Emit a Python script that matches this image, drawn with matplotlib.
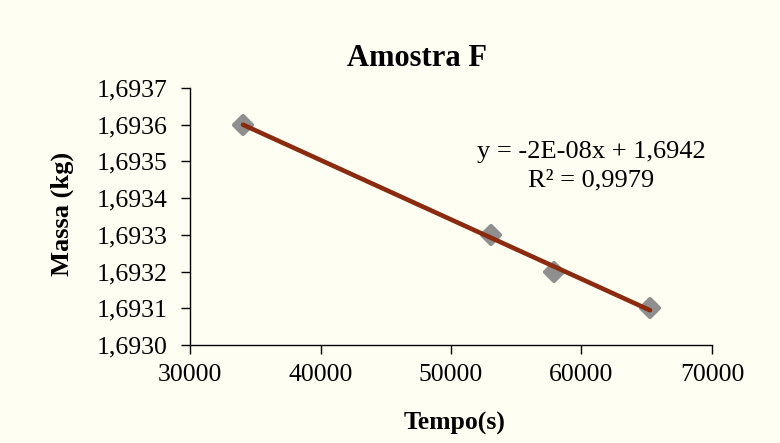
import numpy as np
import matplotlib
matplotlib.use("Agg")
import matplotlib.pyplot as plt
from matplotlib.ticker import FuncFormatter
from matplotlib.markers import MarkerStyle

# Mass loss measurements for sample F
tempo_s = [34060, 53100, 57900, 65250]
massa_kg = [1.6936, 1.6933, 1.6932, 1.6931]

titulo = "Amostra F"
rotulo_x = "Tempo(s)"
rotulo_y = "Massa (kg)"
equacao = "y = -2E-08x + 1,6942"
r2_texto = "R² = 0,9979"

x_ticks = [30000, 40000, 50000, 60000, 70000]
y_ticks = [1.6930, 1.6931, 1.6932, 1.6933, 1.6934, 1.6935, 1.6936, 1.6937]

plt.rcParams["font.family"] = ["Liberation Serif", "DejaVu Serif"]

bg = "#FFFEF2"
fig = plt.figure(figsize=(7.8, 4.43), dpi=100, facecolor=bg)
ax = fig.add_axes([0.2436, 0.2212, 0.6692, 0.5801], facecolor=bg)

# linear trend line over the measured range
coef = np.polyfit(tempo_s, massa_kg, 1)
xs = np.array([min(tempo_s), max(tempo_s)])
diamante = MarkerStyle("D", joinstyle="round")
ax.plot(tempo_s, massa_kg, linestyle="none", marker=diamante, markersize=9.0,
        color="#8F8F8F", markeredgecolor="#8F8F8F", markeredgewidth=3.0,
        zorder=2)
ax.plot(xs, np.polyval(coef, xs), color="#8A2B0F", linewidth=3.3,
        solid_capstyle="round", zorder=3)

ax.set_xlim(x_ticks[0], x_ticks[-1])
ax.set_ylim(y_ticks[0], y_ticks[-1])
ax.set_xticks(x_ticks)
ax.set_yticks(y_ticks)
ax.xaxis.set_major_formatter(FuncFormatter(lambda v, p: f"{v:.0f}"))
ax.yaxis.set_major_formatter(FuncFormatter(lambda v, p: f"{v:.4f}".replace(".", ",")))

for s in ("top", "right"):
    ax.spines[s].set_visible(False)
for s in ("left", "bottom"):
    ax.spines[s].set_linewidth(1.0)
    ax.spines[s].set_color("black")
ax.tick_params(axis="both", direction="out", length=6.5, width=1.0,
               labelsize=18.5, colors="black")
ax.tick_params(axis="y", pad=10)
ax.tick_params(axis="x", pad=7)

ax.text(0.768, 0.752, equacao, transform=ax.transAxes, ha="center",
        va="center", fontsize=19)
ax.text(0.768, 0.642, r2_texto, transform=ax.transAxes, ha="center",
        va="center", fontsize=19)

fig.text(0.534, 0.867, titulo, ha="center", va="center", fontsize=22,
         fontweight="bold")
fig.text(0.0795, 0.518, rotulo_y, ha="center", va="center", rotation=90,
         fontsize=19, fontweight="bold")
fig.text(0.583, 0.045, rotulo_x, ha="center", va="center", fontsize=18.5,
         fontweight="bold")

fig.savefig("out.png", dpi=100, facecolor=bg)
